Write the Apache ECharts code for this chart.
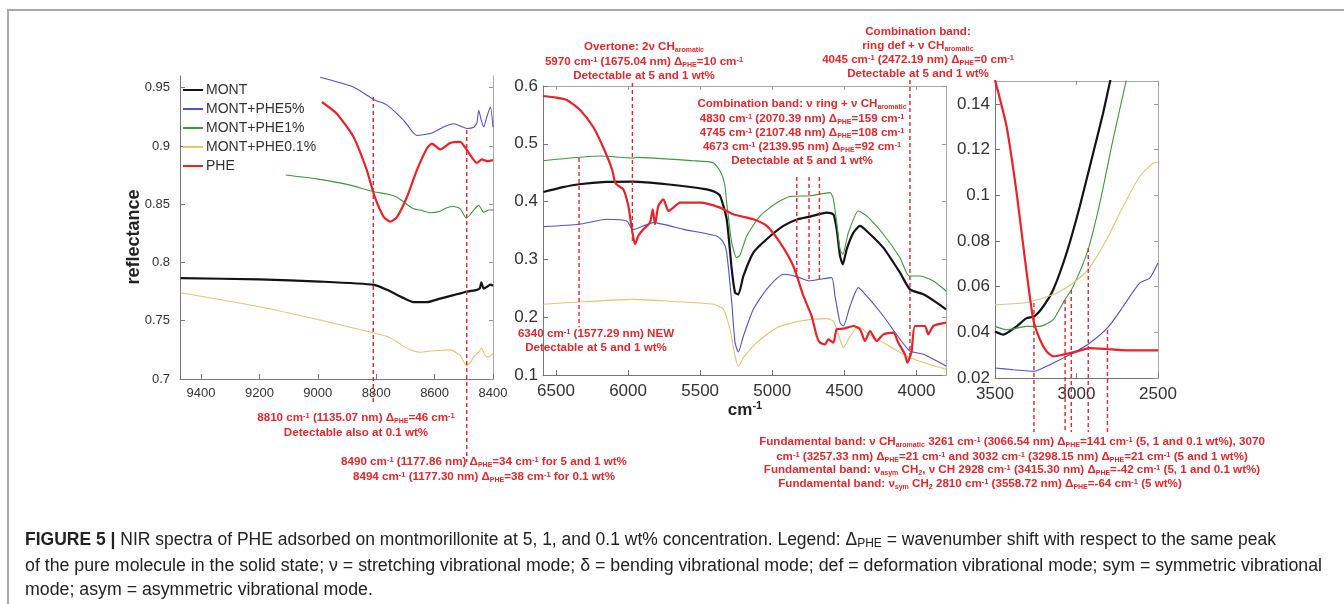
<!DOCTYPE html>
<html><head><meta charset="utf-8">
<script src="https://cdn.jsdelivr.net/npm/echarts@6/dist/echarts.min.js"></script>
<style>html,body{margin:0;padding:0;background:#fff;}#c{width:1344px;height:604px;}</style>
</head><body><div id="c"></div>
<script>
// ---------------- DATA ----------------
const seriesNames = ['MONT', 'MONT+PHE5%', 'MONT+PHE1%', 'MONT+PHE0.1%', 'PHE'];

// Left panel (wavenumber cm-1, reflectance)
const leftMONT = [[9470,0.7865],[9200,0.7855],[8992,0.7836],[8807,0.7808],[8763,0.7765],[8706,0.7694],[8672,0.766],[8626,0.766],[8581,0.769],[8535,0.772],[8489,0.775],[8455,0.7765],[8445,0.778],[8440,0.783],[8432,0.7775],[8421,0.779],[8409,0.781],[8400,0.78]];
const leftPHE5 = [[8992,0.959],[8878,0.9506],[8807,0.9397],[8763,0.935],[8706,0.922],[8661,0.909],[8615,0.9106],[8569,0.9163],[8535,0.919],[8489,0.915],[8466,0.916],[8455,0.92],[8449,0.9306],[8440,0.922],[8432,0.9163],[8421,0.925],[8409,0.9334],[8400,0.916]];
const leftPHE1 = [[9110,0.875],[9000,0.8715],[8900,0.867],[8807,0.8607],[8763,0.8587],[8729,0.856],[8706,0.852],[8672,0.846],[8649,0.845],[8615,0.8427],[8581,0.844],[8558,0.847],[8535,0.848],[8512,0.846],[8491,0.838],[8475,0.842],[8466,0.845],[8449,0.849],[8440,0.846],[8432,0.843],[8415,0.845],[8400,0.845]];
const leftPHE01 = [[9470,0.774],[9200,0.762],[9000,0.751],[8807,0.7394],[8763,0.7365],[8729,0.732],[8706,0.728],[8672,0.724],[8649,0.723],[8615,0.724],[8581,0.7245],[8546,0.725],[8512,0.72],[8491,0.7117],[8475,0.715],[8466,0.719],[8449,0.723],[8440,0.7265],[8426,0.72],[8415,0.719],[8400,0.722]];
const leftPHE = [[8986,0.9377],[8935,0.9277],[8878,0.9078],[8832,0.879],[8807,0.8578],[8775,0.8393],[8752,0.835],[8729,0.839],[8695,0.856],[8661,0.879],[8626,0.898],[8609,0.902],[8581,0.897],[8546,0.9026],[8512,0.9035],[8489,0.8963],[8455,0.8855],[8438,0.8884],[8420,0.887],[8400,0.8878]];

// Middle panel
const midMONT = [[6587,0.4167],[6450,0.425],[6340,0.43],[6150,0.434],[5963,0.4346],[5732,0.43],[5455,0.4213],[5400,0.417],[5362,0.41],[5316,0.3694],[5281,0.283],[5258,0.2425],[5235,0.2396],[5200,0.2713],[5131,0.3117],[5039,0.3348],[4923,0.3579],[4824,0.3694],[4738,0.374],[4622,0.381],[4576,0.378],[4553,0.352],[4530,0.306],[4511,0.2915],[4484,0.3175],[4437,0.3463],[4391,0.3579],[4345,0.3492],[4230,0.3204],[4114,0.277],[4045,0.2482],[3952,0.2396],[3860,0.2252],[3795,0.2136]];
const midPHE5 = [[6587,0.3567],[6340,0.3608],[6148,0.3694],[6009,0.3665],[5980,0.355],[5959,0.352],[5894,0.3579],[5825,0.3636],[5616,0.352],[5385,0.3406],[5340,0.33],[5316,0.3117],[5281,0.2252],[5258,0.156],[5235,0.1398],[5200,0.1674],[5131,0.2136],[5039,0.2482],[4923,0.2742],[4831,0.2702],[4743,0.2627],[4669,0.2656],[4588,0.2684],[4565,0.2367],[4530,0.1905],[4507,0.1848],[4460,0.2194],[4403,0.2511],[4345,0.2367],[4230,0.2021],[4114,0.1617],[4045,0.1415],[3952,0.1357],[3795,0.1155]];
const midPHE1 = [[6590,0.4707],[6194,0.4788],[5966,0.4753],[5940,0.4765],[5549,0.4707],[5411,0.4672],[5360,0.452],[5330,0.43],[5316,0.3983],[5281,0.329],[5247,0.303],[5224,0.307],[5177,0.3406],[5085,0.375],[4969,0.398],[4877,0.4087],[4738,0.41],[4599,0.4156],[4576,0.404],[4553,0.3636],[4530,0.3175],[4511,0.3088],[4472,0.3463],[4403,0.3838],[4345,0.3752],[4230,0.3435],[4114,0.303],[4050,0.2713],[3976,0.2713],[3883,0.2627],[3795,0.2454]];
const midPHE01 = [[6587,0.2223],[6340,0.2263],[5963,0.2309],[5732,0.228],[5409,0.2223],[5339,0.2136],[5293,0.179],[5258,0.1328],[5235,0.1155],[5200,0.13],[5108,0.156],[4969,0.1819],[4807,0.1934],[4622,0.1975],[4576,0.1934],[4530,0.1617],[4507,0.1473],[4472,0.1617],[4403,0.1848],[4345,0.1732],[4230,0.156],[4045,0.13],[3795,0.1098]];
const midPHE = [[6590,0.5827],[6500,0.58],[6425,0.5758],[6333,0.5584],[6243,0.5295],[6174,0.4949],[6110,0.455],[6090,0.4329],[6067,0.4271],[6033,0.4213],[5998,0.3925],[5975,0.355],[5952,0.3261],[5929,0.3406],[5894,0.3521],[5848,0.3636],[5829,0.3867],[5813,0.3608],[5790,0.3925],[5755,0.404],[5720,0.3838],[5686,0.3896],[5640,0.3983],[5501,0.3983],[5362,0.3896],[5270,0.378],[5131,0.3694],[5039,0.3579],[4946,0.329],[4854,0.2886],[4784,0.2367],[4727,0.2021],[4692,0.1675],[4669,0.156],[4634,0.153],[4611,0.1617],[4576,0.156],[4553,0.179],[4507,0.1802],[4437,0.1848],[4391,0.179],[4357,0.1588],[4322,0.1761],[4276,0.1588],[4230,0.1703],[4160,0.1732],[4126,0.156],[4080,0.1357],[4063,0.1213],[4050,0.128],[4033,0.1415],[4010,0.1848],[3941,0.1848],[3918,0.1703],[3883,0.1848],[3795,0.1905]];

// Right panel
const rightMONT = [[3500,0.0404],[3449,0.039],[3367,0.0426],[3306,0.0462],[3259,0.047],[3204,0.0513],[3143,0.0586],[3061,0.0747],[2980,0.0951],[2898,0.1184],[2837,0.1359],[2792,0.1505]];
const rightPHE5 = [[3500,0.0244],[3388,0.0236],[3259,0.0229],[3184,0.0251],[3082,0.0287],[3020,0.0309],[2918,0.0353],[2802,0.0426],[2714,0.0513],[2612,0.0616],[2551,0.0637],[2500,0.0703]];
const rightPHE1 = [[3500,0.0426],[3429,0.0411],[3306,0.0426],[3224,0.0426],[3143,0.0455],[3071,0.0543],[3020,0.0601],[2929,0.0761],[2857,0.0965],[2776,0.1243],[2694,0.1505]];
const rightPHE01 = [[3500,0.0521],[3327,0.0528],[3224,0.0546],[3122,0.0572],[3020,0.0616],[2929,0.0674],[2816,0.0805],[2714,0.0951],[2612,0.1082],[2531,0.114],[2500,0.1143]];
const rightPHE = [[3500,0.1505],[3429,0.1301],[3367,0.1009],[3316,0.0718],[3265,0.0455],[3224,0.0368],[3184,0.0317],[3143,0.0295],[3082,0.0302],[3020,0.0312],[2918,0.0331],[2816,0.0327],[2694,0.0321],[2500,0.0321]];

// Tick values
const leftTicksX = [9400, 9200, 9000, 8800, 8600, 8400];
const leftTicksY = [0.7, 0.75, 0.8, 0.85, 0.9, 0.95];
const midTicksX = [6500, 6000, 5500, 5000, 4500, 4000];
const midTicksY = [0.1, 0.2, 0.3, 0.4, 0.5, 0.6];
const rightTicksX = [3500, 3000, 2500];
const rightTicksY = [0.02, 0.04, 0.06, 0.08, 0.1, 0.12, 0.14];

// Marked bands: [wavenumber, upper reflectance end, lower reflectance end]
const leftMarks = [[8810, 0.942, 0.6777], [8490, 0.9137, 0.6288]];
const midMarks = [[6340, 0.4753, 0.1828], [5970, 0.6052, 0.3265], [4830, 0.4424, 0.2762], [4745, 0.4424, 0.2607], [4673, 0.4424, 0.2607], [4045, 0.6104, 0.1308]];
const rightMarks = [[3261, 0.0528, -0.0036], [3070, 0.0541, -0.0036], [3032, 0.0585, -0.0036], [2928, 0.0769, -0.0036], [2810, 0.041, -0.0036]];

// ---------------- STYLE / LAYOUT ----------------
const FONT = '"Liberation Sans", Arial, Helvetica, sans-serif';
const RED = '#e8262c';
const colors = ['#141414', '#4f4fd8', '#3a9a3a', '#e5c46c', '#ee2028'];
const widths = [2.2, 1.1, 1.1, 1.1, 2.2];
const panels = [
  {left: 180, top: 76, width: 313, height: 303, xMin: 8400, xMax: 9472, yMin: 0.7, yMax: 0.96, fs: 13, xm: 8, ym: 10, topLine: false,
   data: [leftMONT, leftPHE5, leftPHE1, leftPHE01, leftPHE], tx: leftTicksX, ty: leftTicksY, marks: leftMarks},
  {left: 543, top: 86, width: 403, height: 289, xMin: 3795, xMax: 6590, yMin: 0.1, yMax: 0.6, fs: 17, xm: 8, ym: 5, topLine: true,
   data: [midMONT, midPHE5, midPHE1, midPHE01, midPHE], tx: midTicksX, ty: midTicksY, marks: midMarks},
  {left: 995, top: 81, width: 163, height: 297, xMin: 2500, xMax: 3500, yMin: 0.02, yMax: 0.15, fs: 17, xm: 8, ym: 5, topLine: true,
   data: [rightMONT, rightPHE5, rightPHE1, rightPHE01, rightPHE], tx: rightTicksX, ty: rightTicksY, marks: rightMarks}
];

const grids = [], xAxes = [], yAxes = [], series = [];
panels.forEach((p, i) => {
  grids.push({left: p.left, top: p.top, width: p.width, height: p.height, containLabel: false});
  const tickStyle = {show: true, inside: true, length: 5, lineStyle: {color: '#777', width: 1}};
  xAxes.push({type: 'value', gridIndex: i, min: p.xMin, max: p.xMax, inverse: true, position: 'bottom',
    axisLine: {show: true, onZero: false, lineStyle: {color: '#777', width: 1}},
    axisTick: Object.assign({customValues: p.tx}, tickStyle),
    axisLabel: {customValues: p.tx, formatter: v => String(v), fontSize: p.fs, color: '#333', margin: p.xm, fontFamily: FONT},
    splitLine: {show: false}});
  yAxes.push({type: 'value', gridIndex: i, min: p.yMin, max: p.yMax, position: 'left',
    axisLine: {show: true, onZero: false, lineStyle: {color: '#777', width: 1}},
    axisTick: Object.assign({customValues: p.ty}, tickStyle),
    axisLabel: {customValues: p.ty, formatter: v => String(v), fontSize: p.fs, color: '#333', margin: p.ym, fontFamily: FONT},
    splitLine: {show: false}});
  p.data.forEach((d, k) => {
    series.push({type: 'line', name: seriesNames[k], xAxisIndex: i, yAxisIndex: i, data: d,
      showSymbol: false, symbol: 'none', smooth: 0.2, clip: true, silent: true,
      lineStyle: {color: colors[k], width: widths[k]}, itemStyle: {color: colors[k]}, z: 2 + k});
  });
});
// mirrored box axes (top / right)
panels.forEach((p, i) => {
  const tickStyle = {show: true, inside: true, length: 4, lineStyle: {color: '#999', width: 1}};
  xAxes.push({type: 'value', gridIndex: i, min: p.xMin, max: p.xMax, inverse: true, position: 'top',
    axisLine: {show: p.topLine, onZero: false, lineStyle: {color: '#aaa', width: 1}},
    axisTick: Object.assign({customValues: p.tx}, tickStyle, {show: p.topLine}), axisLabel: {show: false}, splitLine: {show: false}});
  yAxes.push({type: 'value', gridIndex: i, min: p.yMin, max: p.yMax, position: 'right',
    axisLine: {show: true, onZero: false, lineStyle: {color: '#aaa', width: 1}},
    axisTick: Object.assign({customValues: p.ty}, tickStyle), axisLabel: {show: false}, splitLine: {show: false}});
});

const chart = echarts.init(document.getElementById('c'), null, {renderer: 'canvas', width: 1344, height: 604});
chart.setOption({
  animation: false,
  backgroundColor: '#fff',
  textStyle: {fontFamily: FONT},
  grid: grids, xAxis: xAxes, yAxis: yAxes, series: series,
  legend: {data: seriesNames, orient: 'vertical', left: 183, top: 83, padding: 0, itemGap: 5,
    icon: 'rect', itemWidth: 20, itemHeight: 2, selectedMode: false,
    textStyle: {fontSize: 14, color: '#333', fontFamily: FONT, padding: [0, 0, 0, -2]}}
});

// ---------------- ANNOTATIONS ----------------
const NOTE_FONT = 'bold 11.6px ' + FONT;
const NOTE_RICH = {
  sup: {font: 'bold 7.5px ' + FONT, fill: RED, verticalAlign: 'top'},
  sub: {font: 'bold 7px ' + FONT, fill: RED, verticalAlign: 'bottom'}
};
const notes = [
  [644, 47, 'Overtone: 2ν CH{sub|aromatic}'],
  [644, 62, '5970 cm{sup|-1} (1675.04 nm) Δ{sub|PHE}=10 cm{sup|-1}'],
  [644, 76, 'Detectable at 5 and 1 wt%'],
  [918, 32, 'Combination band:'],
  [918, 46, 'ring def + ν CH{sub|aromatic}'],
  [918, 60, '4045 cm{sup|-1} (2472.19 nm) Δ{sub|PHE}=0 cm{sup|-1}'],
  [918, 74, 'Detectable at 5 and 1 wt%'],
  [802, 104, 'Combination band: ν ring + ν CH{sub|aromatic}'],
  [802, 119, '4830 cm{sup|-1} (2070.39 nm) Δ{sub|PHE}=159 cm{sup|-1}'],
  [802, 133, '4745 cm{sup|-1} (2107.48 nm) Δ{sub|PHE}=108 cm{sup|-1}'],
  [802, 147, '4673 cm{sup|-1} (2139.95 nm) Δ{sub|PHE}=92 cm{sup|-1}'],
  [802, 161, 'Detectable at 5 and 1 wt%'],
  [596, 334, '6340 cm{sup|-1} (1577.29 nm) NEW'],
  [596, 348, 'Detectable at 5 and 1 wt%'],
  [356, 418, '8810 cm{sup|-1} (1135.07 nm) Δ{sub|PHE}=46 cm{sup|-1}'],
  [356, 433, 'Detectable also at 0.1 wt%'],
  [484, 462, '8490 cm{sup|-1} (1177.86 nm) Δ{sub|PHE}=34 cm{sup|-1} for 5 and 1 wt%'],
  [484, 477, '8494 cm{sup|-1} (1177.30 nm) Δ{sub|PHE}=38 cm{sup|-1} for 0.1 wt%'],
  [1012, 442, 'Fundamental band: ν CH{sub|aromatic} 3261 cm{sup|-1} (3066.54 nm) Δ{sub|PHE}=141 cm{sup|-1} (5, 1 and 0.1 wt%), 3070'],
  [1012, 457, 'cm{sup|-1} (3257.33 nm) Δ{sub|PHE}=21 cm{sup|-1} and 3032 cm{sup|-1} (3298.15 nm) Δ{sub|PHE}=21 cm{sup|-1} (5 and 1 wt%)'],
  [1012, 470, 'Fundamental band: ν{sub|asym} CH{sub|2}, ν CH 2928 cm{sup|-1} (3415.30 nm) Δ{sub|PHE}=-42 cm{sup|-1} (5, 1 and 0.1 wt%)'],
  [980, 484, 'Fundamental band: ν{sub|sym} CH{sub|2} 2810 cm{sup|-1} (3558.72 nm) Δ{sub|PHE}=-64 cm{sup|-1} (5 wt%)']
];

const elements = [];
// frame
elements.push({type: 'line', silent: true, z: 1, shape: {x1: 7, y1: 10, x2: 1344, y2: 10}, style: {stroke: '#aaa', lineWidth: 2}});
elements.push({type: 'line', silent: true, z: 1, shape: {x1: 8, y1: 10, x2: 8, y2: 604}, style: {stroke: '#aaa', lineWidth: 2}});

// dashed band markers via axis scales
panels.forEach((p, i) => {
  const sIdx = i * 5;
  p.marks.forEach(m => {
    const a = chart.convertToPixel({seriesIndex: sIdx}, [m[0], m[1]]);
    const b = chart.convertToPixel({seriesIndex: sIdx}, [m[0], m[2]]);
    elements.push({type: 'line', silent: true, z: 50,
      shape: {x1: a[0], y1: a[1], x2: b[0], y2: b[1]},
      style: {stroke: RED, lineWidth: 1.4, lineDash: [4, 3]}});
  });
});

notes.forEach(n => {
  elements.push({type: 'text', silent: true, z: 60, x: n[0], y: n[1],
    style: {text: n[2], font: NOTE_FONT, fill: RED, align: 'center', verticalAlign: 'middle', lineHeight: 13, rich: NOTE_RICH, legacy: false}});
});

// axis titles
elements.push({type: 'text', silent: true, z: 60, x: 134, y: 237, rotation: Math.PI / 2,
  style: {text: 'reflectance', font: 'bold 18px ' + FONT, fill: '#222', align: 'center', verticalAlign: 'middle', legacy: false}});
elements.push({type: 'text', silent: true, z: 60, x: 745, y: 410,
  style: {text: 'cm{sup|-1}', font: 'bold 17px ' + FONT, fill: '#222', align: 'center', verticalAlign: 'middle', lineHeight: 20,
    rich: {sup: {font: 'bold 11px ' + FONT, fill: '#222', verticalAlign: 'top'}}, legacy: false}});

// caption
const CAP = '17.5px "Liberation Sans Narrow", "Liberation Sans", Arial, sans-serif';
const CAPB = 'bold 17.5px "Liberation Sans Narrow", "Liberation Sans", Arial, sans-serif';
const CAPS = '12px "Liberation Sans Narrow", "Liberation Sans", Arial, sans-serif';
const ctx = document.createElement('canvas').getContext('2d');
function mw(parts) { let w = 0; parts.forEach(pt => { ctx.font = pt[1]; w += ctx.measureText(pt[0]).width; }); return w; }
const cap1a = 'FIGURE 5 |';
const cap1b = ' NIR spectra of PHE adsorbed on montmorillonite at 5, 1, and 0.1 wt% concentration. Legend: Δ';
const cap1c = 'PHE';
const cap1d = ' = wavenumber shift with respect to the same peak';
const cap2 = 'of the pure molecule in the solid state; ν = stretching vibrational mode; δ = bending vibrational mode; def = deformation vibrational mode; sym = symmetric vibrational';
const cap3 = 'mode; asym = asymmetric vibrational mode.';
const s1 = 1251 / mw([[cap1a, CAPB], [cap1b, CAP], [cap1c, CAPS], [cap1d, CAP]]);
const s2 = 1297 / mw([[cap2, CAP]]);
const capRich = {b: {font: CAPB, fill: '#222'}, s: {font: CAPS, fill: '#222', verticalAlign: 'bottom'}};
elements.push({type: 'text', silent: true, z: 60, x: 25, y: 540, scaleX: s1,
  style: {text: '{b|' + cap1a + '}' + cap1b + '{s|' + cap1c + '}' + cap1d, font: CAP, fill: '#222', align: 'left', verticalAlign: 'middle', lineHeight: 19, rich: capRich, legacy: false}});
elements.push({type: 'text', silent: true, z: 60, x: 25, y: 566, scaleX: s2,
  style: {text: cap2, font: CAP, fill: '#222', align: 'left', verticalAlign: 'middle', legacy: false}});
elements.push({type: 'text', silent: true, z: 60, x: 25, y: 590, scaleX: s2,
  style: {text: cap3, font: CAP, fill: '#222', align: 'left', verticalAlign: 'middle', legacy: false}});

chart.setOption({graphic: {elements: elements}});
</script></body></html>
